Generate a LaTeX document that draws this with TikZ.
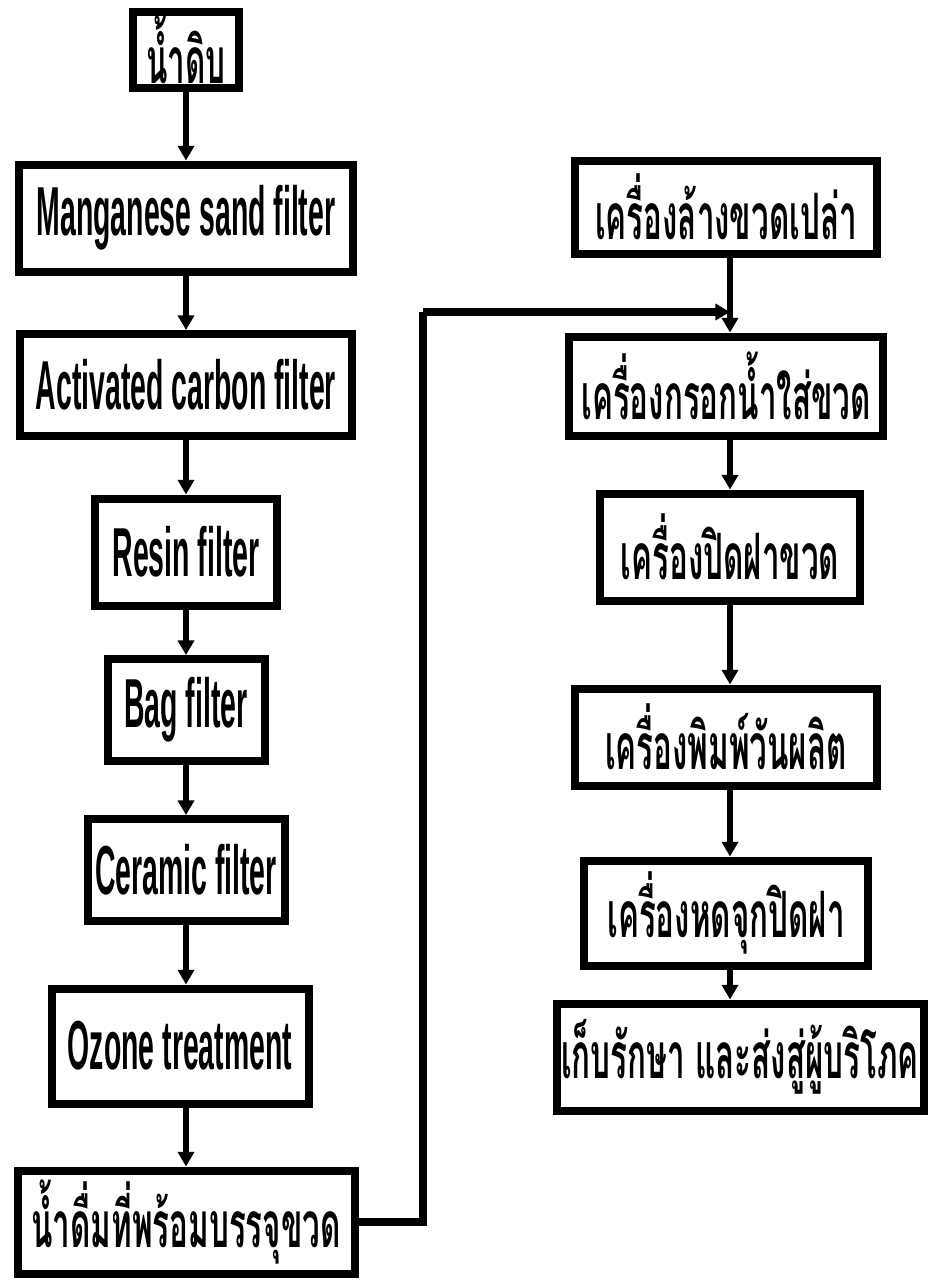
\documentclass[tikz,border=0pt]{standalone}
\usepackage{fontspec}
\setmainfont{Liberation Sans}
\newfontfamily\thaifont[Script=Thai]{Loma}
\usetikzlibrary{arrows.meta}

\newcommand{\engtext}[1]{\scalebox{0.41}[1]{\fontsize{52}{56}\selectfont\bfseries #1}}
\newcommand{\thaitext}[1]{\scalebox{0.49}[1]{\thaifont\fontsize{48}{52}\selectfont\bfseries #1}}

\begin{document}
\begin{tikzpicture}[x=0.75pt,y=-0.75pt,
    stagebox/.style 2 args={draw, line width=6pt, inner sep=0pt,
      minimum width=0.75pt*#1, minimum height=0.75pt*#2},
    flow/.style={line width=5pt, -{Triangle[length=11pt,width=12pt]}}]
   \useasboundingbox (0,0) rectangle (934,1283);
   % left column: water treatment
   \node[stagebox={106}{76}]  (raw)     at (186,50)   {\thaitext{น้ำดิบ}};
   \node[stagebox={334}{107}] (mangan)  at (186,218)  {\engtext{Manganese sand filter}};
   \node[stagebox={332}{102}] (carbon)  at (186,385)  {\engtext{Activated carbon filter}};
   \node[stagebox={182}{107}] (resin)   at (186,552)  {\engtext{Resin filter}};
   \node[stagebox={157}{102}] (bag)     at (186,710)  {\engtext{Bag filter}};
   \node[stagebox={197}{102}] (ceramic) at (186,870)  {\engtext{Ceramic filter}};
   \node[stagebox={257}{115}] (ozone)   at (180,1046) {\engtext{Ozone treatment}};
   \node[stagebox={337}{103}] (ready)   at (186,1222) {\thaitext{น้ำดื่มที่พร้อมบรรจุขวด}};
   % right column: bottling line
   \node[stagebox={302}{93}]  (wash)    at (726,207)  {\thaitext{เครื่องล้างขวดเปล่า}};
   \node[stagebox={314}{99}]  (fill)    at (726,386)  {\thaitext{เครื่องกรอกน้ำใส่ขวด}};
   \node[stagebox={260}{107}] (cap)     at (730,547)  {\thaitext{เครื่องปิดฝาขวด}};
   \node[stagebox={302}{97}]  (print)   at (726,737)  {\thaitext{เครื่องพิมพ์วันผลิต}};
   \node[stagebox={284}{105}] (shrink)  at (726,913)  {\thaitext{เครื่องหดจุกปิดฝา}};
   \node[stagebox={367}{107}] (store)   at (740,1057) {\thaitext{เก็บรักษา และส่งสู่ผู้บริโภค}};

   \coordinate (riser) at (423,0);
   \coordinate (join)  at (730,312);

   \draw[flow] (raw) -- (mangan);
   \draw[flow] (mangan) -- (carbon);
   \draw[flow] (carbon) -- (resin);
   \draw[flow] (resin) -- (bag);
   \draw[flow] (bag) -- (ceramic);
   \draw[flow] (ceramic) -- (ozone.north -| ceramic);
   \draw[flow] (ozone.south -| ready) -- (ready);
   \draw[line width=6pt] (ready.east) -- (ready.east -| riser) -- (riser |- join);
   \draw[flow, line width=6pt] (riser |- join) -- (join);
   \draw[flow] (wash.south -| join) -- (fill.north -| join);
   \draw[flow] (fill.south -| join) -- (cap.north -| join);
   \draw[flow] (cap.south -| join) -- (print.north -| join);
   \draw[flow] (print.south -| join) -- (shrink.north -| join);
   \draw[flow] (shrink.south -| join) -- (store.north -| join);
\end{tikzpicture}
\end{document}
